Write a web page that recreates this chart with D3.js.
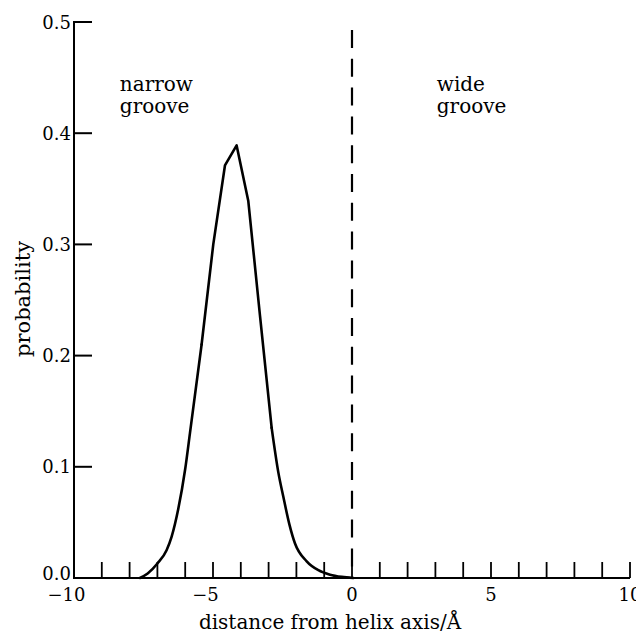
<!DOCTYPE html>
<html>
<head>
<meta charset="utf-8">
<script src="https://cdn.jsdelivr.net/npm/d3@7"></script>
<style>
  html, body { margin: 0; padding: 0; background: #fff; }
  svg { display: block; }
  text { font-family: "DejaVu Serif", "Liberation Serif", serif; fill: #000; }
</style>
</head>
<body>
<svg id="chart" width="636" height="636"></svg>
<script>
// ---- data ----
const distance = [-7.63, -7.35, -7.0, -6.67, -6.49, -6.25, -6.0, -5.83, -5.41, -4.99, -4.57, -4.15, -3.73, -3.31, -2.89, -2.65, -2.47, -2.25, -2.05, -1.63, -1.21, -0.79, -0.37, 0.05];
const probability = [0.0, 0.004, 0.013, 0.025, 0.037, 0.062, 0.098, 0.13, 0.21, 0.30, 0.371, 0.389, 0.339, 0.236, 0.135, 0.095, 0.073, 0.048, 0.031, 0.015, 0.007, 0.003, 0.001, 0.0];
const peakFrom = -5.41;   // region drawn with straight segments (sharp peak)
const peakTo = -2.89;
const xTickValues = d3.range(-10, 11, 1);
const xLabelValues = [-10, -5, 0, 5, 10];
const yTickValues = [0, 0.1, 0.2, 0.3, 0.4, 0.5];
const dividerX = 0;
const grooveLabels = [
  { x: -8.35, lines: ["narrow", "groove"] },
  { x: 3.05, lines: ["wide", "groove"] }
];
const xTitle = "distance from helix axis/Å";
const yTitle = "probability";

// ---- layout ----
const svg = d3.select("#chart");
const x = d3.scaleLinear().domain([-10, 10]).range([74, 630]);
const y = d3.scaleLinear().domain([0, 0.5]).range([578, 22]);

// x axis line
svg.append("line")
  .attr("x1", x(-10)).attr("x2", x(10))
  .attr("y1", y(0)).attr("y2", y(0))
  .attr("stroke", "#000").attr("stroke-width", 2);

// y axis line
svg.append("line")
  .attr("x1", x(-10)).attr("x2", x(-10))
  .attr("y1", y(0) + 1).attr("y2", y(0.5) - 1)
  .attr("stroke", "#000").attr("stroke-width", 2);

// x ticks (pointing up)
svg.append("g").selectAll("line").data(xTickValues.filter(v => v !== -10)).join("line")
  .attr("x1", d => x(d)).attr("x2", d => x(d))
  .attr("y1", y(0)).attr("y2", y(0) - 16)
  .attr("stroke", "#000").attr("stroke-width", 1.8);

// y ticks (pointing right)
svg.append("g").selectAll("line").data(yTickValues.filter(v => v !== 0)).join("line")
  .attr("x1", x(-10)).attr("x2", x(-10) + 18)
  .attr("y1", d => y(d)).attr("y2", d => y(d))
  .attr("stroke", "#000").attr("stroke-width", 2);

// x tick labels: digits centred on the tick, minus sign hanging to the left
const xl = svg.append("g");
xLabelValues.forEach(v => {
  const digits = xl.append("text")
    .attr("x", x(v)).attr("y", 601)
    .attr("text-anchor", "middle")
    .attr("font-size", 18)
    .text(String(Math.abs(v)));
  if (v < 0) {
    const w = digits.node().getComputedTextLength();
    xl.append("text")
      .attr("x", x(v) - w / 2).attr("y", 601)
      .attr("text-anchor", "end")
      .attr("font-size", 18)
      .text("\u2212");
  }
});

// y tick labels
svg.append("g").selectAll("text").data(yTickValues).join("text")
  .attr("x", 71).attr("y", d => d === 0 ? y(d) + 2 : y(d) + 6.5)
  .attr("text-anchor", "end")
  .attr("font-size", 18)
  .text(d => d.toFixed(1));

// axis titles
svg.append("text")
  .attr("x", 330).attr("y", 629)
  .attr("text-anchor", "middle")
  .attr("font-size", 20)
  .text(xTitle);

svg.append("text")
  .attr("transform", "translate(30,299) rotate(-90)")
  .attr("text-anchor", "middle")
  .attr("font-size", 21)
  .text(yTitle);

// dashed divider
svg.append("line")
  .attr("x1", x(dividerX)).attr("x2", x(dividerX))
  .attr("y1", y(0.5) + 8).attr("y2", y(0))
  .attr("stroke", "#000").attr("stroke-width", 2.2)
  .attr("stroke-dasharray", "18,10.8");

// groove labels
grooveLabels.forEach(g => {
  const t = svg.append("text").attr("font-size", 20);
  g.lines.forEach((ln, i) => {
    t.append("tspan").attr("x", x(g.x)).attr("y", 91 + i * 22).text(ln);
  });
});

// curve: smooth tails, straight segments around the peak
const pts = distance.map((d, i) => [d, probability[i]]);
const leftTail = pts.filter(p => p[0] <= peakFrom);
const middle = pts.filter(p => p[0] >= peakFrom && p[0] <= peakTo);
const rightTail = pts.filter(p => p[0] >= peakTo);
const smooth = d3.line().x(d => x(d[0])).y(d => y(d[1])).curve(d3.curveMonotoneX);
const straight = d3.line().x(d => x(d[0])).y(d => y(d[1]));
const curveG = svg.append("g")
  .attr("fill", "none")
  .attr("stroke", "#000")
  .attr("stroke-width", 2.6)
  .attr("stroke-linejoin", "round")
  .attr("stroke-linecap", "round");
curveG.append("path").attr("d", smooth(leftTail));
curveG.append("path").attr("d", straight(middle));
curveG.append("path").attr("d", smooth(rightTail));
</script>
</body>
</html>
